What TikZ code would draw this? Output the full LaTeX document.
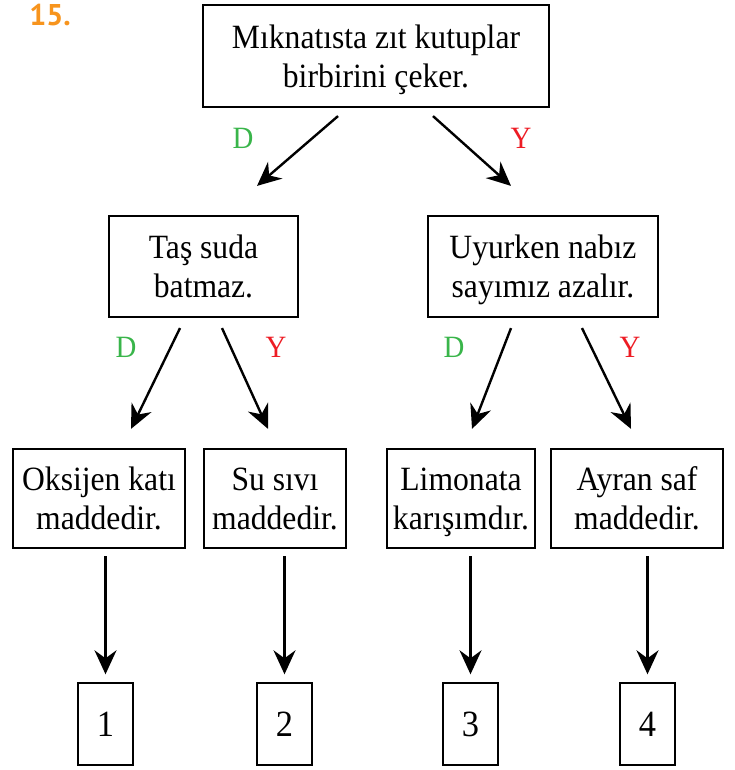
\documentclass[tikz,border=0pt]{standalone}
\usepackage{fontspec}
\setmainfont{Liberation Serif}[FakeStretch=0.93]
\newfontfamily\numfont{PT Sans}
\usetikzlibrary{arrows.meta}
\definecolor{dgreen}{HTML}{39B54A}
\definecolor{yred}{HTML}{ED1C24}
\definecolor{qorange}{HTML}{F7941D}
\tikzset{
  kutu/.style={draw, line width=2.2pt, align=center, inner sep=0pt, text depth=0pt, font=\fontsize{34}{39}\selectfont},
  numkutu/.style={draw, line width=1.4pt, minimum width=55pt, minimum height=82pt, inner sep=0pt, font=\fontsize{37}{39}\selectfont},
  ok/.style={line width=2.4pt, -{Stealth[length=24pt,width=22pt,inset=8pt]}},
  lab/.style={font=\fontsize{31}{37}\selectfont}
}

\begin{document}
\begin{tikzpicture}[x=1pt,y=-1pt]
    \useasboundingbox (0,0) rectangle (734,770);
    \node[text=qorange, font=\numfont\bfseries\fontsize{30}{32}\selectfont] (no) at (50,15) {15.};
    % kutular
    \node[kutu, minimum width=346pt, minimum height=102pt] (ust) at (376,56) {Mıknatısta zıt kutuplar\\birbirini çeker.};
    \node[kutu, minimum width=189pt, minimum height=101pt] (tas) at (203.5,266.5) {Taş suda\\batmaz.};
    \node[kutu, minimum width=230pt, minimum height=101pt] (uyu) at (543,266.5) {Uyurken nabız\\sayımız azalır.};
    \node[kutu, minimum width=172pt, minimum height=99pt] (b1) at (99,498.5) {Oksijen katı\\maddedir.};
    \node[kutu, minimum width=142pt, minimum height=99pt] (b2) at (275,498.5) {Su sıvı\\maddedir.};
    \node[kutu, minimum width=148pt, minimum height=99pt] (b3) at (461,498.5) {Limonata\\karışımdır.};
    \node[kutu, minimum width=172pt, minimum height=99pt] (b4) at (637,498.5) {Ayran saf\\maddedir.};
    \foreach \n/\x in {1/105.5,2/284.5,3/470.5,4/647.5}
        \node[numkutu] (n\n) at (\x,724) {\n};
    % oklar
    \draw[ok] ([xshift=-38pt,yshift=-8pt]ust.south) -- ([xshift=53.5pt,yshift=29pt]tas.north);
    \draw[ok] ([xshift=57pt,yshift=-8pt]ust.south) -- ([xshift=-32pt,yshift=29pt]uyu.north);
    \draw[ok] ([xshift=-23.5pt,yshift=-10pt]tas.south) -- ([xshift=32pt,yshift=19pt]b1.north);
    \draw[ok] ([xshift=18.5pt,yshift=-10pt]tas.south) -- ([xshift=-7pt,yshift=19pt]b2.north);
    \draw[ok] ([xshift=-32pt,yshift=-10pt]uyu.south) -- ([xshift=11pt,yshift=19pt]b3.north);
    \draw[ok] ([xshift=39pt,yshift=-10pt]uyu.south) -- ([xshift=-6pt,yshift=19pt]b4.north);
    \foreach \i in {1,2,3,4}
        \draw[ok, shorten <=7pt, shorten >=8pt] (b\i.south -| n\i.north) -- (n\i.north);
    % D / Y
    \node[lab, text=dgreen] (d1) at (243,138) {D};
    \node[lab, text=yred] (y1) at (521,138) {Y};
    \node[lab, text=dgreen] (d2) at (126,347) {D};
    \node[lab, text=yred] (y2) at (276,347) {Y};
    \node[lab, text=dgreen] (d3) at (454,347) {D};
    \node[lab, text=yred] (y3) at (630,347) {Y};
\end{tikzpicture}
\end{document}
